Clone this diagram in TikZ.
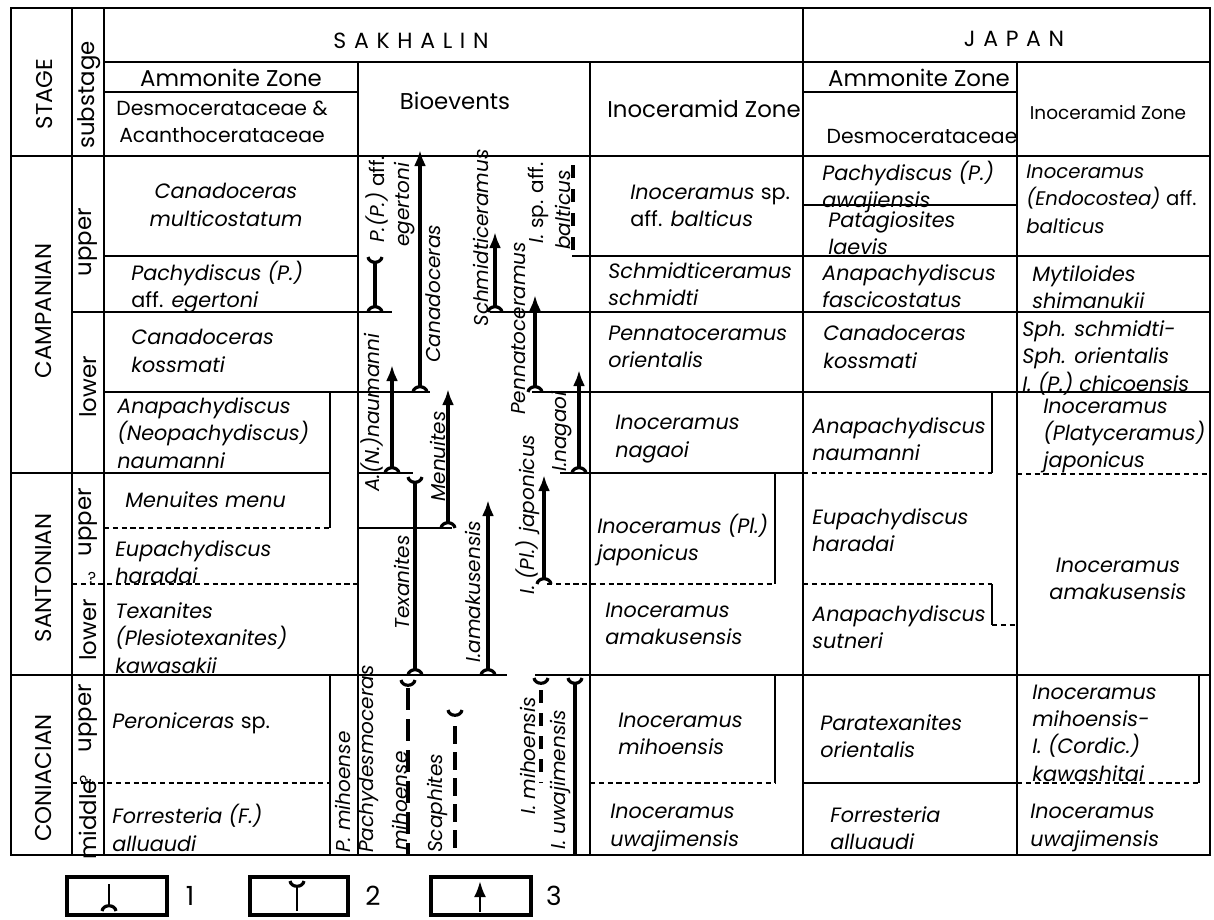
\documentclass[tikz,border=0pt]{standalone}
\usepackage{fontspec}
\setmainfont{Poppins}
\usetikzlibrary{arrows.meta}
\newcommand{\zonefont}{\fontsize{11.8}{15.5}\selectfont\itshape}
\newcommand{\biofont}{\fontsize{11.4}{15.5}\selectfont\itshape}
\newcommand{\headfont}{\fontsize{13}{15.5}\selectfont}
\newcommand{\famfont}{\fontsize{11.6}{15.5}\selectfont}

\begin{document}
\begin{tikzpicture}[x=0.2mm, y=-0.2mm,
        rule/.style={line width=0.6pt, black},
        drule/.style={rule, dash pattern=on 3pt off 2pt},
        head/.style={font=\headfont, inner sep=0pt},
        rhead/.style={head, rotate=90},
        zone/.style={font=\zonefont, align=left, anchor=west, inner sep=0pt},
        czone/.style={zone, align=center, anchor=center},
        bio/.style={font=\biofont, rotate=90, anchor=west, inner sep=0pt},
        bar/.style={line width=2pt},
        arr/.style={bar, -{Latex[length=3.2mm, width=2.4mm]}},
        dbar/.style={bar, dash pattern=on 4.4mm off 1.8mm},
        legbox/.style={line width=1.8pt},
        fad/.pic={\draw[line width=1.8pt] (-7,0) .. controls (-6,-7) and (6,-7) .. (7,0);},
        lad/.pic={\draw[line width=1.8pt] (-7,0) .. controls (-6,7) and (6,7) .. (7,0);},
    ]
    \useasboundingbox (0,0) rectangle (1214,919);
    % frame and columns
    \draw[rule] (11,8) rectangle (1210,855);
    \draw[rule] (104,62) -- (1210,62);
    \draw[rule] (11,156) -- (1210,156);
    \draw[rule] (104,92) -- (358,92);
    \draw[rule] (803,92) -- (1017,92);
    \draw[rule] (72,8) -- (72,855);
    \draw[rule] (104,8) -- (104,855);
    \draw[rule] (358,62) -- (358,855);
    \draw[rule] (590,62) -- (590,855);
    \draw[rule] (803,8) -- (803,855);
    \draw[rule] (1017,62) -- (1017,855);
    % zone boundaries
    \draw[rule] (803,205) -- (1017,205);
    \draw[rule] (104,256) -- (358,256);
    \draw[rule] (572,256) -- (1210,256);
    \draw[rule] (72,312) -- (392,312);
    \draw[rule] (490,312) -- (1210,312);
    \draw[rule] (104,392) -- (430,392);
    \draw[rule] (532,392) -- (1210,392);
    \draw[rule] (11,473) -- (330,473);
    \draw[rule] (358,473) -- (413,473);
    \draw[rule] (560,473) -- (803,473);
    \draw[drule] (803,473) -- (992,473);
    \draw[drule] (1017,474) -- (1210,474);
    \draw[drule] (104,528) -- (330,528);
    \draw[rule] (358,528) -- (452,528);
    \draw[drule] (72,584) -- (358,584);
    \draw[drule] (547,584) -- (775,584);
    \draw[drule] (803,584) -- (992,584);
    \draw[drule] (992,625) -- (1017,625);
    \draw[rule] (11,675) -- (507,675);
    \draw[rule] (535,675) -- (1210,675);
    \draw[drule] (72,783) -- (330,783);
    \draw[drule] (590,783) -- (775,783);
    \draw[rule] (803,783) -- (1017,783);
    \draw[drule] (1017,783) -- (1199,783);
    \draw[rule] (330,392) -- (330,528);
    \draw[rule] (330,675) -- (330,855);
    \draw[rule] (775,473) -- (775,584);
    \draw[rule] (775,675) -- (775,783);
    \draw[rule] (992,392) -- (992,473);
    \draw[rule] (992,584) -- (992,625);
    \draw[rule] (1199,675) -- (1199,783);
    % headings
    \node[rhead] (stage) at (45,94) {STAGE};
    \node[rhead] (substage) at (89,95) {substage};
    \node[head, font=\fontsize{12.5}{15}\selectfont] (sakhalin) at (411,41) {\addfontfeature{LetterSpace=35}SAKHALIN};
    \node[head, font=\fontsize{12.5}{15}\selectfont] (japan) at (1014,39) {\addfontfeature{LetterSpace=35}JAPAN};
    \node[head] (ammS) at (231,78) {Ammonite Zone};
    \node[head, font=\famfont, align=center] (famS) at (222,122) {Desmocerataceae \&\\Acanthocerataceae};
    \node[head] (bioev) at (455,101) {Bioevents};
    \node[head, anchor=west] (inoS) at (607,109) {Inoceramid Zone};
    \node[head] (ammJ) at (919,78) {Ammonite Zone};
    \node[head, font=\famfont] (famJ) at (922,136) {Desmocerataceae};
    \node[head, font=\fontsize{10.5}{13}\selectfont] (inoJ) at (1108,113) {Inoceramid Zone};
    % stages and substages
    \node[rhead] (camp) at (44,311) {CAMPANIAN};
    \node[rhead] (sant) at (44,578) {SANTONIAN};
    \node[rhead] (coni) at (44,778) {CONIACIAN};
    \node[rhead] (campU) at (88,242) {upper};
    \node[rhead] (campL) at (88,387) {lower};
    \node[rhead] (santU) at (88,522) {upper};
    \node[rhead] (santL) at (88,630) {lower};
    \node[rhead] (coniU) at (88,718) {upper};
    \node[rhead] (coniM) at (88,820) {middle};
    \node[head, font=\fontsize{9}{10}\selectfont] (qS) at (92,578) {?};
    \node[head, font=\fontsize{9}{10}\selectfont, rotate=90] (qC) at (86,779) {?};
    % Sakhalin ammonite zones
    \node[czone] (sa1) at (226,205) {Canadoceras\\multicostatum};
    \node[zone] (sa2) at (131,287) {Pachydiscus (P.)\\\textup{aff.} egertoni};
    \node[zone] (sa3) at (131,351) {Canadoceras\\kossmati};
    \node[zone] (sa4) at (117,433) {Anapachydiscus\\(Neopachydiscus)\\naumanni};
    \node[zone] (sa5) at (125,500) {Menuites menu};
    \node[zone] (sa6) at (115,562) {Eupachydiscus\\haradai};
    \node[zone] (sa7) at (115,638) {Texanites\\(Plesiotexanites)\\kawasakii};
    \node[zone] (sa8) at (112,723) {Peroniceras \textup{sp.}};
    \node[zone] (sa9) at (112,828) {Forresteria (F.)\\alluaudi};
    % Sakhalin inoceramid zones
    \node[zone] (si1) at (630,206) {Inoceramus \textup{sp.}\\\textup{aff.} balticus};
    \node[zone] (si2) at (608,284) {Schmidticeramus\\schmidti};
    \node[zone] (si3) at (608,347) {Pennatoceramus\\orientalis};
    \node[zone] (si4) at (615,439) {Inoceramus\\nagaoi};
    \node[zone] (si5) at (597,540) {Inoceramus (Pl.)\\japonicus};
    \node[zone] (si6) at (605,624) {Inoceramus\\amakusensis};
    \node[zone] (si7) at (618,734) {Inoceramus\\mihoensis};
    \node[zone] (si8) at (610,828) {Inoceramus\\uwajimensis};
    % Japan ammonite zones
    \node[zone] (ja1) at (822,187) {Pachydiscus (P.)\\awajiensis};
    \node[zone] (ja2) at (828,233) {Patagiosites\\laevis};
    \node[zone] (ja3) at (822,286) {Anapachydiscus\\fascicostatus};
    \node[zone] (ja4) at (823,347) {Canadoceras\\kossmati};
    \node[zone] (ja5) at (812,439) {Anapachydiscus\\naumanni};
    \node[zone] (ja6) at (812,530) {Eupachydiscus\\haradai};
    \node[zone] (ja7) at (812,627) {Anapachydiscus\\sutneri};
    \node[zone] (ja8) at (820,736) {Paratexanites\\orientalis};
    \node[zone] (ja9) at (830,828) {Forresteria\\alluaudi};
    % Japan inoceramid zones
    \node[zone, font=\fontsize{11.2}{15.5}\selectfont\itshape] (ji1) at (1026,199) {Inoceramus\\(Endocostea) \textup{aff.}\\balticus};
    \node[zone] (ji2) at (1032,287) {Mytiloides\\shimanukii};
    \node[zone] (ji3) at (1022,358) {Sph. schmidti-\\Sph. orientalis\\I. (P.) chicoensis};
    \node[zone] (ji4) at (1043,436) {Inoceramus\\(Platyceramus)\\japonicus};
    \node[czone] (ji5) at (1118,579) {Inoceramus\\amakusensis};
    \node[zone] (ji6) at (1032,733) {Inoceramus\\mihoensis-\\I. (Cordic.)\\kawashitai};
    \node[zone] (ji7) at (1030,828) {Inoceramus\\uwajimensis};
    % bioevents: ranges
    \draw[bar] (375,307) -- (375,262);
    \pic at (375,312) {fad};
    \pic at (375,257) {lad};
    \draw[arr] (420,387) -- (420,150);
    \pic at (420,392) {fad};
    \draw[arr] (392,468) -- (392,365);
    \pic at (392,473) {fad};
    \draw[bar] (415,670) -- (415,482);
    \pic at (415,675) {fad};
    \pic at (415,477) {lad};
    \draw[arr] (448,523) -- (448,389);
    \pic at (448,528) {fad};
    \draw[arr] (495,307) -- (495,232);
    \pic at (495,312) {fad};
    \draw[arr] (535,387) -- (535,295);
    \pic at (535,392) {fad};
    \draw[bar, dash pattern=on 2.6mm off 2.2mm] (573,250) -- (573,160);
    \draw[arr] (579,468) -- (579,370);
    \pic at (579,473) {fad};
    \draw[arr] (544,579) -- (544,475);
    \pic at (544,584) {fad};
    \draw[arr] (488,670) -- (488,500);
    \pic at (488,675) {fad};
    \pic at (408,680) {lad};
    \draw[dbar] (408,688) -- (408,855);
    \pic at (455,710) {lad};
    \draw[bar, dash pattern=on 3.6mm off 1.6mm] (455,726) -- (455,855);
    \pic at (541,678) {lad};
    \draw[bar, dash pattern=on 2.6mm off 2mm] (541,690) -- (541,783);
    \pic at (575,678) {lad};
    \draw[bar] (575,684) -- (575,855);
    % bioevents: names
    \node[bio] (bPP) at (377,243) {P.(P.) \textup{aff.}};
    \node[bio] (bPPb) at (405,247) {egertoni};
    \node[bio] (bCan) at (433,363) {Canadoceras};
    \node[bio] (bAN) at (372,492) {A.(N.)naumanni};
    \node[bio] (bTex) at (402,630) {Texanites};
    \node[bio] (bMen) at (438,502) {Menuites};
    \node[bio] (bSch) at (481,327) {Schmidticeramus};
    \node[bio] (bPen) at (519,415) {Pennatoceramus};
    \node[bio] (bIb) at (538,244) {I. \textup{sp. aff.}};
    \node[bio] (bIbb) at (563,250) {balticus};
    \node[bio] (bIn) at (562,472) {I.nagaoi};
    \node[bio] (bIj) at (528,595) {I. (Pl.) japonicus};
    \node[bio] (bIa) at (473,663) {I.amakusensis};
    \node[bio] (bPm) at (343,853) {P. mihoense};
    \node[bio] (bPd) at (369,853) {Pachydesmoceras};
    \node[bio] (bPdb) at (400,851) {mihoense};
    \node[bio] (bSca) at (437,853) {Scaphites};
    \node[bio] (bIm) at (528,815) {I. mihoensis};
    \node[bio] (bIu) at (560,850) {I. uwajimensis};
    % legend
    \draw[legbox] (67,877) rectangle (167,915);
    \draw[line width=1.6pt] (109,906) -- (109,884);
    \pic at (109,911) {fad};
    \node[head, font=\fontsize{15}{18}\selectfont] (key1) at (190,896) {1};
    \draw[legbox] (250,877) rectangle (348,915);
    \pic at (297,881) {lad};
    \draw[line width=1.6pt] (297,886) -- (297,911);
    \node[head, font=\fontsize{15}{18}\selectfont] (key2) at (373,896) {2};
    \draw[legbox] (431,877) rectangle (531,915);
    \draw[arr, line width=1.6pt] (480,912) -- (480,881);
    \node[head, font=\fontsize{15}{18}\selectfont] (key3) at (554,896) {3};
\end{tikzpicture}
\end{document}
